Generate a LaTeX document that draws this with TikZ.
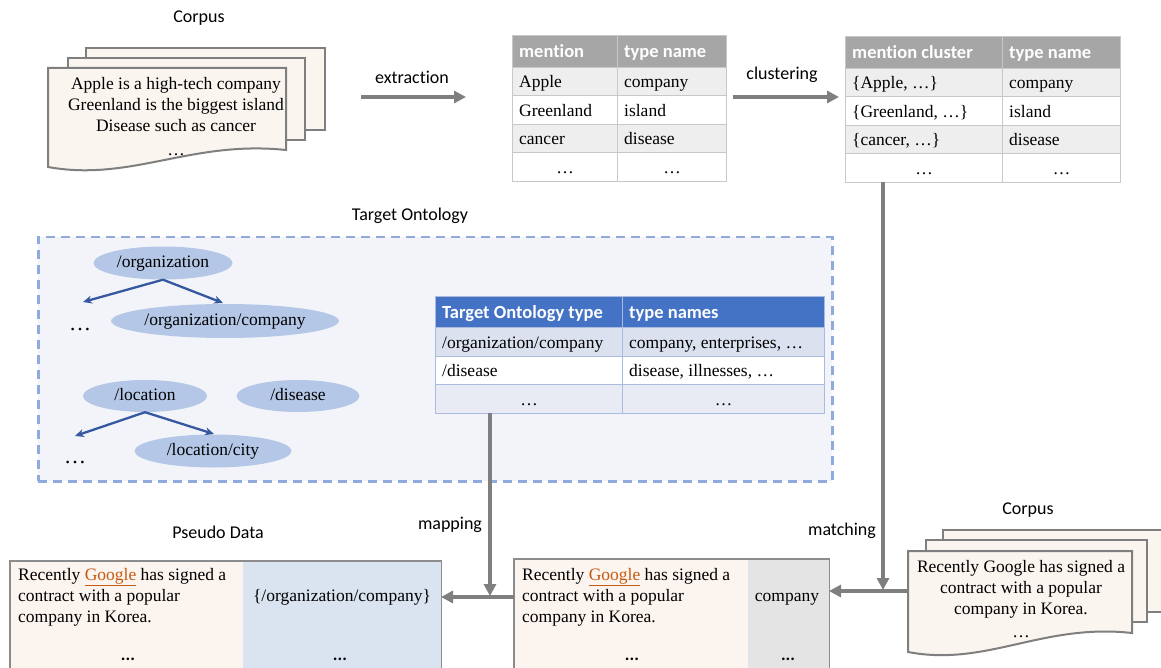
\documentclass[tikz,border=0pt]{standalone}
\usepackage{fontspec}
\setmainfont{Liberation Serif}
\newfontfamily\serfont{Liberation Serif}
\newfontfamily\labfont[Ligatures=NoCommon]{Carlito}
\usetikzlibrary{arrows.meta,shapes.geometric}
\definecolor{arrgray}{HTML}{7F7F7F}
\definecolor{docfill}{HTML}{FAF5EF}
\definecolor{hdrgray}{HTML}{A6A6A6}
\definecolor{rowgray}{HTML}{EEEEEE}
\definecolor{gridc}{HTML}{C8C8C8}
\definecolor{ontbg}{HTML}{F2F4F9}
\definecolor{ontdash}{HTML}{8FAADC}
\definecolor{ellfill}{HTML}{B4C7E7}
\definecolor{treeblue}{HTML}{3558A0}
\definecolor{hdrblue}{HTML}{4472C4}
\definecolor{rowblueA}{HTML}{DCE1EF}
\definecolor{rowblueB}{HTML}{E8EBF4}
\definecolor{gridblue}{HTML}{A9BCE0}
\definecolor{pseudoL}{HTML}{FCF4EF}
\definecolor{pseudoR}{HTML}{DAE3F0}
\definecolor{boxR}{HTML}{E4E4E4}
\definecolor{boxborder}{HTML}{8C8C8C}
\definecolor{googleor}{HTML}{C55A11}
\newcommand\tabtxt{\serfont\fontsize{17.5}{21}\selectfont}
\newcommand\hdrtxt{\labfont\bfseries\fontsize{18.5}{22}\selectfont\color{white}}
\newcommand\lcell[8]{%
  \node[cellbox, fill=#6, draw=#7, minimum width=#4pt, minimum height=#5pt, anchor=north west] (#1) at (#2,#3) {};
  \node[anchor=base west, inner sep=0pt] at ([xshift=7pt,yshift=-6pt]#1.west) {#8};}
\newcommand\ccell[8]{%
  \node[cellbox, fill=#6, draw=#7, minimum width=#4pt, minimum height=#5pt, anchor=north west] (#1) at (#2,#3) {};
  \node[anchor=base, inner sep=0pt] at ([yshift=-6pt]#1.center) {#8};}
\newcommand\docwave[5]{%
  \draw[docstyle] (#1,#3) -- (#2,#3) -- (#2,#5) .. controls ({#1+0.6*(#2-#1)},{#5-10}) and ({#1+0.35*(#2-#1)},{#4+15}) .. (#1,#4) -- cycle;}
\newcommand\goog{{\color{googleor}\underline{Google}}}
\begin{document}
\begin{tikzpicture}[x=1pt,y=-1pt,
  lab/.style={font=\labfont\fontsize{18}{21}\selectfont, inner sep=0pt},
  txt/.style={font=\serfont\fontsize{17.5}{21}\selectfont, inner sep=0pt},
  docstyle/.style={draw=arrgray, line width=2pt, fill=docfill},
  cellbox/.style={line width=1pt, inner sep=0pt},
  arr/.style={draw=arrgray, line width=3.5pt, -{Triangle[length=12pt,width=12pt]}},
  tarr/.style={draw=treeblue, line width=2.3pt, -{Stealth[length=9pt,width=8pt]}},
  ell/.style={ellipse, fill=ellfill, inner sep=0pt, font=\serfont\fontsize{17.5}{21}\selectfont, text height=12pt, text depth=4pt},
  bdots/.style={font=\labfont\bfseries\fontsize{17.5}{21}\selectfont, inner sep=0pt},
  tdots/.style={font=\serfont\fontsize{22}{22}\selectfont, inner sep=0pt}]
\useasboundingbox (0,0) rectangle (1161,668);
\fill[white] (0,0) rectangle (1161,668);

% ---------- top-left corpus ----------
\node[lab] (corpus1) at (199,18) {Corpus};
\draw[docstyle] (86,48) rectangle (325,130);
\draw[docstyle] (68,58) rectangle (305,140);
\docwave{48}{286}{68}{167}{150}
\node[txt, align=center] (doc1) at (176,117) {Apple is a high-tech company\\Greenland is the biggest island\\Disease such as cancer\\[3pt]…};

% ---------- extraction ----------
\coordinate (ex1) at (361,97);
\coordinate (ex2) at (466,97);
\draw[arr] (ex1) -- (ex2);
\node[lab] (extr) at (412,77) {extraction};

% ---------- table 1 ----------
\lcell{ta11}{512}{35}{105}{32}{hdrgray}{gridc}{\hdrtxt mention}
\lcell{ta12}{617}{35}{109}{32}{hdrgray}{gridc}{\hdrtxt type name}
\lcell{ta21}{512}{67}{105}{28.5}{rowgray}{gridc}{\tabtxt Apple}
\lcell{ta22}{617}{67}{109}{28.5}{rowgray}{gridc}{\tabtxt company}
\lcell{ta31}{512}{95.5}{105}{28.5}{white}{gridc}{\tabtxt Greenland}
\lcell{ta32}{617}{95.5}{109}{28.5}{white}{gridc}{\tabtxt island}
\lcell{ta41}{512}{124}{105}{28.5}{rowgray}{gridc}{\tabtxt cancer}
\lcell{ta42}{617}{124}{109}{28.5}{rowgray}{gridc}{\tabtxt disease}
\ccell{ta51}{512}{152.5}{105}{28.5}{white}{gridc}{\tabtxt …}
\ccell{ta52}{617}{152.5}{109}{28.5}{white}{gridc}{\tabtxt …}

% ---------- clustering ----------
\coordinate (cl1) at (733,97);
\coordinate (cl2) at (839,97);
\draw[arr] (cl1) -- (cl2);
\node[lab] (clus) at (782,75) {clustering};

% ---------- table 2 ----------
\lcell{tb11}{845}{36}{157}{32}{hdrgray}{gridc}{\hdrtxt mention cluster}
\lcell{tb12}{1002}{36}{118}{32}{hdrgray}{gridc}{\hdrtxt type name}
\lcell{tb21}{845}{68}{157}{28.5}{rowgray}{gridc}{\tabtxt \{Apple, …\}}
\lcell{tb22}{1002}{68}{118}{28.5}{rowgray}{gridc}{\tabtxt company}
\lcell{tb31}{845}{96.5}{157}{28.5}{white}{gridc}{\tabtxt \{Greenland, …\}}
\lcell{tb32}{1002}{96.5}{118}{28.5}{white}{gridc}{\tabtxt island}
\lcell{tb41}{845}{125}{157}{28.5}{rowgray}{gridc}{\tabtxt \{cancer, …\}}
\lcell{tb42}{1002}{125}{118}{28.5}{rowgray}{gridc}{\tabtxt disease}
\ccell{tb51}{845}{153.5}{157}{28.5}{white}{gridc}{\tabtxt …}
\ccell{tb52}{1002}{153.5}{118}{28.5}{white}{gridc}{\tabtxt …}

% ---------- target ontology ----------
\node[lab] (ontlab) at (410,216) {Target Ontology};
\node[draw=ontdash, fill=ontbg, line width=2.5pt, dash pattern=on 9pt off 6pt,
      minimum width=794pt, minimum height=244pt, anchor=north west, inner sep=0pt] (ont) at (37,236) {};

\node[ell, minimum width=139pt, minimum height=33pt] (org) at (163,263) {/organization};
\node[ell, minimum width=208pt, minimum height=34pt] (orgc) at (225,321) {/organization/company};
\node[ell, minimum width=124pt, minimum height=32pt] (loc) at (145,396) {/location};
\node[ell, minimum width=123pt, minimum height=32pt] (dis) at (298,396) {/disease};
\node[ell, minimum width=157pt, minimum height=33pt] (city) at (213,451) {/location/city};
\coordinate (orgL) at (83,302);
\coordinate (orgR) at (223,303);
\coordinate (locL) at (75,436);
\coordinate (locR) at (214,434);
\draw[tarr] (org.south) -- (orgL);
\draw[tarr] (org.south) -- (orgR);
\draw[tarr] (loc.south) -- (locL);
\draw[tarr] (loc.south) -- (locR);
\node[tdots] (d1) at (80,330) {…};
\node[tdots] (d2) at (75,463) {…};

% ontology table
\lcell{tc11}{435}{296}{187}{31}{hdrblue}{gridblue}{\hdrtxt Target Ontology type}
\lcell{tc12}{622}{296}{202}{31}{hdrblue}{gridblue}{\hdrtxt type names}
\lcell{tc21}{435}{327}{187}{29}{rowblueA}{gridblue}{\tabtxt /organization/company}
\lcell{tc22}{622}{327}{202}{29}{rowblueA}{gridblue}{\tabtxt company, enterprises, …}
\lcell{tc31}{435}{356}{187}{28}{white}{gridblue}{\tabtxt /disease}
\lcell{tc32}{622}{356}{202}{28}{white}{gridblue}{\tabtxt disease, illnesses, …}
\ccell{tc41}{435}{384}{187}{29}{rowblueB}{gridblue}{\tabtxt …}
\ccell{tc42}{622}{384}{202}{29}{rowblueB}{gridblue}{\tabtxt …}

% ---------- bottom-right corpus ----------
\node[lab] (corpus2) at (1028,510) {Corpus};
\draw[docstyle] (943,530) rectangle (1175,612);
\draw[docstyle] (926,540) rectangle (1147,622);
\docwave{908}{1132}{551}{652}{633}
\node[txt, align=center] (doc2) at (1021,599) {Recently Google has signed a\\contract with a popular\\company in Korea.\\[2pt]…};

% ---------- middle bottom box ----------
\node[fill=pseudoL, minimum width=234pt, minimum height=112pt, anchor=north west, inner sep=0pt] (b2L) at (514,559) {};
\node[fill=boxR, minimum width=81pt, minimum height=112pt, anchor=north west, inner sep=0pt] (b2R) at (748,559) {};
\draw[boxborder, line width=1.2pt] (b2L.south west) -- (b2L.north west) -- (b2R.north east) -- (b2R.south east);
\node[txt, align=left, anchor=west] (b2txt) at (522,597) {Recently \goog{} has signed a\\contract with a popular\\company in Korea.};
\node[txt, text height=12pt, text depth=4pt] (b2lab) at (787,597) {company};
\node[bdots] (b2d1) at (632,659) {...};
\node[bdots] (b2d2) at (788,659) {...};

% ---------- pseudo data box ----------
\node[lab] (pseudo) at (218,532) {Pseudo Data};
\node[fill=pseudoL, minimum width=233pt, minimum height=112pt, anchor=north west, inner sep=0pt] (pdL) at (10,561) {};
\node[fill=pseudoR, minimum width=198pt, minimum height=112pt, anchor=north west, inner sep=0pt] (pdR) at (243,561) {};
\draw[boxborder, line width=1.2pt] (pdL.south west) -- (pdL.north west) -- (pdR.north east) -- (pdR.south east);
\node[txt, align=left, anchor=west] (pdtxt) at (18,597) {Recently \goog{} has signed a\\contract with a popular\\company in Korea.};
\node[txt, text height=12pt, text depth=4pt] (pdlab) at (342,597) {\{/organization/company\}};
\node[bdots] (pdd1) at (128,659) {...};
\node[bdots] (pdd2) at (340,659) {...};

% ---------- matching / mapping arrows ----------
\coordinate (mt1) at (883,182);
\coordinate (mt2) at (883,590);
\draw[arr] (mt1) -- (mt2);
\coordinate (cs) at (908,591);
\coordinate (b2E) at (829,591);
\draw[arr] (cs) -- (b2E);
\node[lab] (match) at (842,531) {matching};

\coordinate (mp1) at (490,413);
\coordinate (mp2) at (490,596);
\draw[arr] (mp1) -- (mp2);
\coordinate (b2W) at (514,597);
\coordinate (pdE) at (441,597);
\draw[arr] (b2W) -- (pdE);
\node[lab] (mapl) at (450,525) {mapping};
\end{tikzpicture}
\end{document}
